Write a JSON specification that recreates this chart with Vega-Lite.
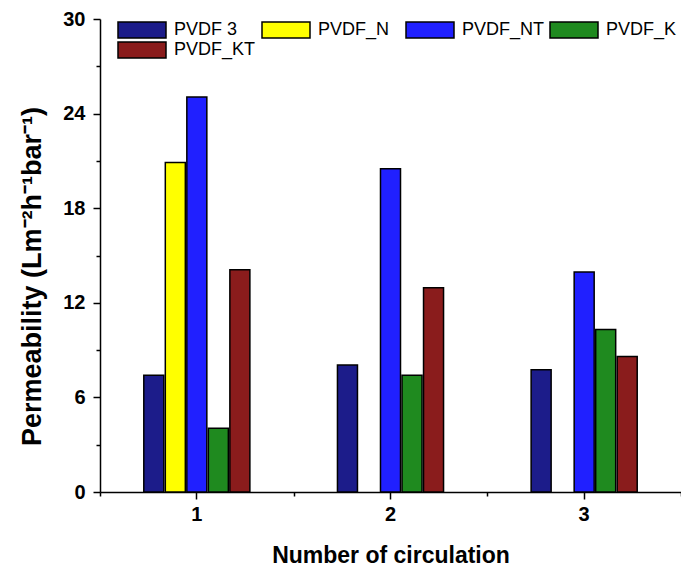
{
  "$schema": "https://vega.github.io/schema/vega-lite/v6.json",
  "width": 581,
  "height": 473,
  "autosize": {"type": "none"},
  "padding": {"left": 100, "top": 19, "right": 0, "bottom": 83},
  "background": "white",
  "config": {"view": {"stroke": null}, "font": "Liberation Sans"},
  "data": {
    "values": [
      {"c": "1", "s": "PVDF 3", "v": 7.4},
      {"c": "1", "s": "PVDF_N", "v": 20.9},
      {"c": "1", "s": "PVDF_NT", "v": 25.05},
      {"c": "1", "s": "PVDF_K", "v": 4.05},
      {"c": "1", "s": "PVDF_KT", "v": 14.1},
      {"c": "2", "s": "PVDF 3", "v": 8.05},
      {"c": "2", "s": "PVDF_NT", "v": 20.5},
      {"c": "2", "s": "PVDF_K", "v": 7.4},
      {"c": "2", "s": "PVDF_KT", "v": 12.95},
      {"c": "3", "s": "PVDF 3", "v": 7.75},
      {"c": "3", "s": "PVDF_NT", "v": 13.95},
      {"c": "3", "s": "PVDF_K", "v": 10.3},
      {"c": "3", "s": "PVDF_KT", "v": 8.6}
    ]
  },
  "layer": [
    {
      "mark": {"type": "bar", "stroke": "black", "strokeWidth": 1.5},
      "encoding": {
        "x": {
          "field": "c", "type": "nominal",
          "scale": {"paddingInner": 0, "paddingOuter": 0},
          "axis": {
            "orient": "bottom",
            "title": "Number of circulation",
            "titleFont": "Liberation Sans", "titleFontSize": 23, "titleFontWeight": "bold",
            "titlePadding": 20, "titleColor": "black",
            "labelAngle": 0, "labelFont": "Liberation Sans", "labelFontSize": 20, "labelFontWeight": "bold",
            "labelColor": "black", "labelPadding": 5,
            "tickSize": 7, "tickWidth": 1.5, "tickColor": "black",
            "domainColor": "black", "domainWidth": 1.5
          }
        },
        "xOffset": {
          "field": "s", "type": "nominal",
          "scale": {"domain": ["_a", "_b", "PVDF 3", "PVDF_N", "PVDF_NT", "PVDF_K", "PVDF_KT", "_c", "_d"], "paddingInner": 0.07, "paddingOuter": 0.035}
        },
        "y": {
          "field": "v", "type": "quantitative",
          "scale": {"domain": [0, 30], "nice": false},
          "axis": {
            "values": [0, 3, 6, 9, 12, 15, 18, 21, 24, 27, 30],
            "labelExpr": "datum.value % 6 === 0 ? datum.label : ''",
            "tickSize": {"condition": {"test": "datum.value % 6 === 0", "value": 7}, "value": 4},
            "tickWidth": 1.5, "tickColor": "black",
            "domainColor": "black", "domainWidth": 1.5, "grid": false,
            "labelFont": "Liberation Sans", "labelFontSize": 20, "labelFontWeight": "bold", "labelColor": "black",
            "labelPadding": 8,
            "title": "Permeability (Lm⁻²h⁻¹bar⁻¹)",
            "titleFont": "Liberation Sans", "titleFontSize": 27, "titleFontWeight": "bold", "titleColor": "black",
            "titlePadding": 16, "titleY": 257, "titleAlign": "center"
          }
        },
        "color": {
          "field": "s", "type": "nominal",
          "scale": {
            "domain": ["PVDF 3", "PVDF_N", "PVDF_NT", "PVDF_K", "PVDF_KT"],
            "range": ["#1c1c8a", "#ffff00", "#2020ff", "#1f8a1f", "#8a1c1c"]
          },
          "legend": {
            "title": null, "orient": "none", "legendX": 33, "legendY": 2,
            "direction": "horizontal", "columns": 4, "gridAlign": "all",
            "symbolType": "M-3,-1H3V1H-3Z", "symbolSize": 256,
            "symbolStrokeColor": "black", "symbolStrokeWidth": 1.5, "symbolOpacity": 1,
            "labelFont": "Liberation Sans", "labelFontSize": 18, "labelColor": "black",
            "labelOffset": 23, "columnPadding": 2, "rowPadding": -2
          }
        }
      }
    },
    {
      "mark": {"type": "bar", "opacity": 0},
      "encoding": {
        "x": {
          "field": "c", "type": "nominal",
          "axis": {
            "orient": "bottom", "tickBand": "extent", "labels": false, "title": null,
            "domain": false, "tickSize": 4, "tickWidth": 1.5, "tickColor": "black"
          }
        },
        "y": {"field": "v", "type": "quantitative"}
      }
    }
  ],
  "resolve": {"axis": {"x": "independent"}}
}
